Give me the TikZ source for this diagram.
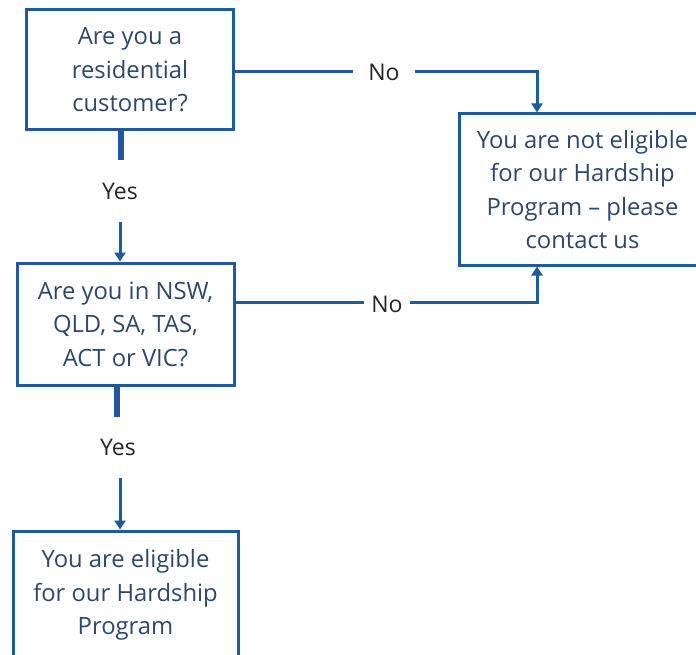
\documentclass[tikz,border=0pt]{standalone}
\usepackage{fontspec}
\setmainfont{Open Sans}
\usetikzlibrary{arrows.meta}
\definecolor{boxblue}{RGB}{31,89,158}
\definecolor{boxtext}{RGB}{45,72,104}
\definecolor{labtext}{RGB}{38,38,38}
\tikzset{
  qbox/.style={draw=boxblue, line width=3pt, align=center, text=boxtext,
    font=\fontsize{23.8}{33.5}\selectfont, inner sep=0pt},
  lab/.style={text=labtext, font=\fontsize{23}{26}\selectfont, inner sep=0pt},
  stub/.style={draw=boxblue, line width=5.5pt},
  conn/.style={draw=boxblue, line width=3pt},
  arr/.style={draw=boxblue, line width=3pt, -{Triangle[width=11pt,length=9pt]}},
}
\begin{document}
\begin{tikzpicture}[x=1pt,y=-1pt]
\useasboundingbox (0,0) rectangle (696,655);
\clip (0,0) rectangle (696,655);
\fill[white] (0,0) rectangle (696,655);
% boxes
\node[qbox, minimum width=207pt, minimum height=120pt] (b1) at (130,70)
  {Are you a\\residential\\customer?};
\node[qbox, minimum width=217pt, minimum height=122pt] (b2) at (125.5,324)
  {Are you in NSW,\\QLD, SA, TAS,\\ACT or VIC?};
\node[qbox, minimum width=225pt, minimum height=128pt] (b3) at (125.5,595)
  {You are eligible\\for our Hardship\\Program};
\node[qbox, minimum width=247pt, minimum height=151pt] (b4) at (582.5,189.5)
  {You are not eligible\\for our Hardship\\Program -- please\\contact us};
% labels (their size spans the gap in the connector)
\node[lab, minimum width=40pt, minimum height=62pt] (y1) at (120,191) {Yes};
\node[lab, minimum width=40pt, minimum height=61pt] (y2) at (118,447.5) {Yes};
\node[lab, minimum width=62pt, minimum height=30pt] (n1) at (384,72) {No};
\node[lab, minimum width=45pt, minimum height=30pt] (n2) at (387,304) {No};
% named turning points
\coordinate (t1) at (537,72);
\coordinate (t2) at (537,302);
% Yes connectors
\draw[stub] (b1.south -| 121,0) -- (y1.north -| 121,0);
\draw[arr] (y1.south -| 120,0) -- (b2.north -| 120,0);
\draw[stub] (b2.south -| 117,0) -- (y2.north -| 117,0);
\draw[arr] (y2.south -| 120,0) -- (b3.north -| 120,0);
% No connectors
\draw[conn] (b1.east |- t1) -- (n1.west |- t1);
\draw[arr] (n1.east |- t1) -- (t1) -- (b4.north -| t1);
\draw[conn] (b2.east |- t2) -- (n2.west |- t2);
\draw[arr] (n2.east |- t2) -- (t2) -- (b4.south -| t2);
\end{tikzpicture}
\end{document}
